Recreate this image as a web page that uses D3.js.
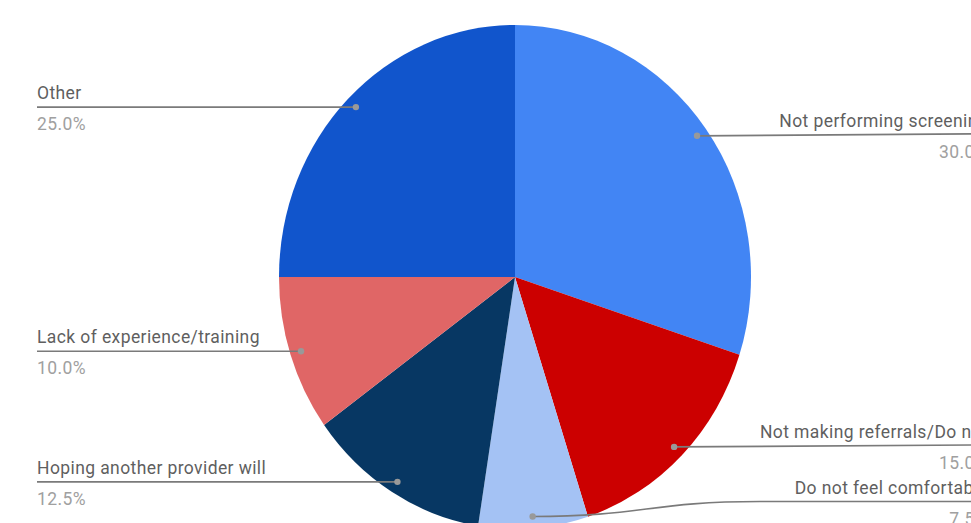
<!DOCTYPE html>
<html>
<head>
<meta charset="utf-8">
<script src="https://cdn.jsdelivr.net/npm/d3@7"></script>
<style>
  body { margin: 0; background: #fff; overflow: hidden; }
  svg { display: block; font-family: Roboto, "Noto Sans", sans-serif; }
</style>
</head>
<body>
<svg id="chart" width="971" height="523"></svg>
<script>
// data, clockwise from 12 o'clock
var labels = [
  'Not performing screening',
  'Not making referrals/Do not',
  'Do not feel comfortable',
  'Hoping another provider will',
  'Lack of experience/training',
  'Other'
];
var values = [30.0, 15.0, 7.5, 12.5, 10.0, 25.0];
var colors = ['#4285f4', '#cc0000', '#a4c2f4', '#073763', '#e06666', '#1155cc'];

// layout
var W = 971, H = 523;
var CX = 515, CY = 277;
var RX = 236, RY = 252;        // picture is a little stretched vertically
var SY = RY / RX;
var DOT_R = 225;               // where the leader dots sit
var LEFT_X = 37;
var RIGHT_X = 988;
var FONT = 17.5;

var svg = d3.select('#chart');

var rows = labels.map(function(l, i){
  return { label: l, value: values[i], color: colors[i] };
});

var pie = d3.pie()
  .sort(null)
  .value(function(d){ return d.value; });

var arcs = pie(rows);

var arc = d3.arc().innerRadius(0).outerRadius(RX);
var dotArc = d3.arc().innerRadius(DOT_R).outerRadius(DOT_R);

var g = svg.append('g')
  .attr('transform', 'translate(' + CX + ',' + CY + ') scale(1,' + SY + ')');

g.selectAll('path.slice')
  .data(arcs)
  .enter()
  .append('path')
  .attr('class', 'slice')
  .attr('d', arc)
  .attr('fill', function(d){ return d.data.color; });

// leader lines + labels
var fmt = d3.format('.1f');
var lab = svg.append('g');

arcs.forEach(function(d){
  var c = dotArc.centroid(d);
  var dx = CX + c[0], dy = CY + c[1] * SY;
  var right = c[0] > 0;
  var ly = dy;
  var path;

  if (d.data.label.indexOf('Do not feel') === 0) {
    // pushed up to clear the label above
    ly = dy - 15;
    var x2 = 760;
    path = 'M' + dx + ',' + dy +
      'C' + (dx + 110) + ',' + dy + ' ' + (x2 - 110) + ',' + ly + ' ' + x2 + ',' + ly +
      'L' + RIGHT_X + ',' + ly;
  } else if (right) {
    path = 'M' + dx + ',' + dy + 'L' + RIGHT_X + ',' + (ly - 2);
    ly = ly - 1;
  } else {
    path = 'M' + LEFT_X + ',' + ly + 'L' + dx + ',' + dy;
  }

  lab.append('path')
    .attr('d', path)
    .attr('fill', 'none')
    .attr('stroke', '#7a7a7a')
    .attr('stroke-width', 1.7);

  lab.append('circle')
    .attr('cx', dx).attr('cy', dy).attr('r', 3.2)
    .attr('fill', '#999');

  var nameX = LEFT_X, anchor = 'start';
  if (right) { nameX = RIGHT_X; anchor = 'end'; }

  lab.append('text')
    .attr('x', nameX)
    .attr('y', ly - 8)
    .attr('text-anchor', anchor)
    .attr('font-size', FONT)
    .attr('letter-spacing', 0.4)
    .attr('fill', '#5f5f5f')
    .text(d.data.label);

  lab.append('text')
    .attr('x', nameX)
    .attr('y', ly + 23)
    .attr('text-anchor', anchor)
    .attr('font-size', FONT)
    .attr('letter-spacing', 0.4)
    .attr('fill', '#a0a0a0')
    .text(fmt(d.data.value) + '%');
});
</script>
</body>
</html>
